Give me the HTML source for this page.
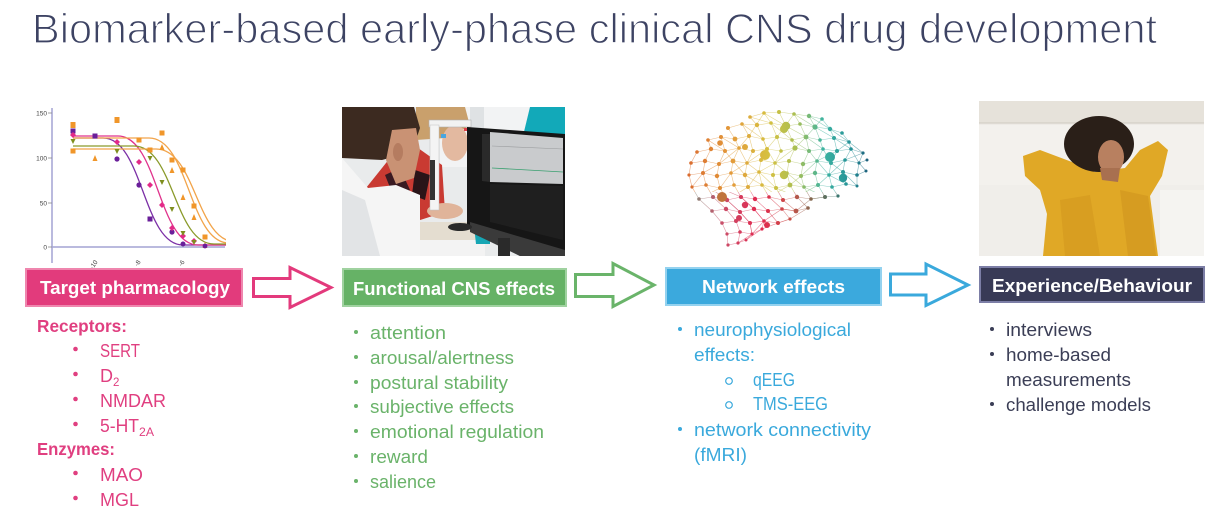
<!DOCTYPE html>
<html><head><meta charset="utf-8">
<style>
html,body{margin:0;padding:0;background:#fff;}
svg{display:block;}
text{font-family:"Liberation Sans",Arial,sans-serif;}
</style></head>
<body>
<svg width="1214" height="516" viewBox="0 0 1214 516" xmlns="http://www.w3.org/2000/svg">
<defs>
  <clipPath id="cChart"><rect x="30" y="100" width="196" height="170"/></clipPath>
  <clipPath id="cP2"><rect x="342" y="107" width="223" height="149"/></clipPath>
  <clipPath id="cP4"><rect x="979" y="101" width="225" height="155"/></clipPath>
  <clipPath id="cTop"><rect x="680" y="100" width="200" height="92"/></clipPath>
  <clipPath id="cBot"><rect x="680" y="192" width="200" height="70"/></clipPath>
  <linearGradient id="gH" gradientUnits="userSpaceOnUse" x1="685" y1="0" x2="870" y2="0">
    <stop offset="0" stop-color="#d9682e"/>
    <stop offset="0.25" stop-color="#e39a3a"/>
    <stop offset="0.45" stop-color="#d6c040"/>
    <stop offset="0.6" stop-color="#a9bf52"/>
    <stop offset="0.75" stop-color="#3cb3a2"/>
    <stop offset="0.9" stop-color="#238f96"/>
    <stop offset="1" stop-color="#1d5a78"/>
  </linearGradient>
  <linearGradient id="gB" gradientUnits="userSpaceOnUse" x1="690" y1="0" x2="845" y2="0">
    <stop offset="0" stop-color="#7c8c78"/>
    <stop offset="0.2" stop-color="#c8506a"/>
    <stop offset="0.45" stop-color="#e2264e"/>
    <stop offset="0.65" stop-color="#c85048"/>
    <stop offset="0.8" stop-color="#7a6a50"/>
    <stop offset="1" stop-color="#2a7a78"/>
  </linearGradient>
</defs>

<!-- Title -->
<text x="32" y="43" font-size="42" fill="#3d4363" stroke="#ffffff" stroke-width="1.2" textLength="1125" lengthAdjust="spacingAndGlyphs">Biomarker-based early-phase clinical CNS drug development</text>

<!-- ===== Chart ===== -->
<g>
  <line x1="52" y1="108" x2="52" y2="263" stroke="#a4a4d4" stroke-width="1.5"/>
  <line x1="52" y1="247" x2="225" y2="247" stroke="#a4a4d4" stroke-width="1.5"/>
  <g stroke="#888" stroke-width="0.8">
    <line x1="48" y1="113" x2="52" y2="113"/><line x1="48" y1="158" x2="52" y2="158"/>
    <line x1="48" y1="203" x2="52" y2="203"/><line x1="48" y1="247" x2="52" y2="247"/>
  </g>
  <g font-size="6.5" fill="#444" text-anchor="end">
    <text x="47" y="115.5">150</text><text x="47" y="160.5">100</text>
    <text x="47" y="205.5">50</text><text x="47" y="249.5">0</text>
  </g>
  <g font-size="6.5" fill="#444">
    <text transform="translate(98,262) rotate(-55)" text-anchor="end">-10</text>
    <text transform="translate(141,262) rotate(-55)" text-anchor="end">-8</text>
    <text transform="translate(185,262) rotate(-55)" text-anchor="end">-6</text>
  </g>
  <g clip-path="url(#cChart)" fill="none" stroke-width="1.3">
    <path d="M73,138 L103,138 C143,138 143,245 183,245 L226,245" stroke="#7b2fa6"/>
    <path d="M73,136 L118,136 C158,136 158,245 198,245 L226,245" stroke="#e0338c"/>
    <path d="M73,146 L134,146 C174,146 174,244 214,244 L226,244" stroke="#8a9a2a"/>
    <path d="M73,138 L149,138 C189,138 189,243 229,243" stroke="#f2a44a"/>
    <path d="M73,149 L156,149 C196,149 196,242 236,242" stroke="#f2a44a"/>
  </g>
  <g fill="#f0962a">
    <rect x="114.5" y="117" width="5" height="6"/><rect x="70.5" y="122" width="5" height="6"/>
    <rect x="70.5" y="148.5" width="5" height="5"/><path d="M92.5,161 L97.5,161 L95,155Z"/>
    <rect x="136.5" y="137.5" width="5" height="5"/><rect x="147.5" y="147.5" width="5" height="5"/>
    <rect x="159.5" y="130.5" width="5" height="5"/><path d="M159.5,150 L164.5,150 L162,144Z"/>
    <rect x="169.5" y="157.5" width="5" height="5"/><path d="M169.5,173 L174.5,173 L172,167Z"/>
    <rect x="180.5" y="167.5" width="5" height="5"/><path d="M180.5,200 L185.5,200 L183,194Z"/>
    <rect x="191.5" y="203.5" width="5" height="5"/><path d="M191.5,220 L196.5,220 L194,214Z"/>
    <rect x="202.5" y="234.5" width="5" height="5"/><path d="M202.5,248 L207.5,248 L205,242Z"/>
  </g>
  <g fill="#6a1f9a">
    <rect x="70.5" y="128.5" width="5" height="5"/><rect x="92.5" y="133.5" width="5" height="5"/>
    <circle cx="117" cy="159" r="2.6"/><circle cx="139" cy="185" r="2.6"/>
    <rect x="147.5" y="216.5" width="5" height="5"/><circle cx="172" cy="232" r="2.6"/>
    <circle cx="183" cy="244" r="2.5"/><circle cx="205" cy="246" r="2.4"/>
  </g>
  <g fill="#e32a88">
    <path d="M73,132 L76,135 L73,138 L70,135Z"/><path d="M117,139 L120,142 L117,145 L114,142Z"/>
    <path d="M139,159 L142,162 L139,165 L136,162Z"/><path d="M150,182 L153,185 L150,188 L147,185Z"/>
    <path d="M162,202 L165,205 L162,208 L159,205Z"/><path d="M172,225 L175,228 L172,231 L169,228Z"/>
    <path d="M183,233 L186,236 L183,239 L180,236Z"/><path d="M194,238 L197,241 L194,244 L191,241Z"/>
  </g>
  <g fill="#7e8e1e">
    <path d="M70.5,139 L75.5,139 L73,144Z"/><path d="M114.5,149 L119.5,149 L117,154Z"/>
    <path d="M147.5,156 L152.5,156 L150,161Z"/><path d="M159.5,180 L164.5,180 L162,185Z"/>
    <path d="M169.5,207 L174.5,207 L172,212Z"/><path d="M180.5,231 L185.5,231 L183,236Z"/>
    <path d="M191.5,240 L196.5,240 L194,245Z"/>
  </g>
</g>

<!-- ===== Photo 2 (lab) ===== -->
<g clip-path="url(#cP2)">
  <rect x="342" y="107" width="223" height="149" fill="#e9ebec"/>
  <rect x="440" y="107" width="125" height="60" fill="#f2f3f4"/>
  <polygon points="530,107 565,107 565,140 522,140" fill="#12a9b9"/>
  <rect x="470" y="107" width="14" height="120" fill="#dfe2e4"/>
  <polygon points="405,222 485,222 485,240 405,244" fill="#e4ddd0"/>
  <rect x="405" y="240" width="80" height="16" fill="#f3f3f3"/>
  <polygon points="474,226 490,224 490,244 476,244" fill="#16a6b4"/>
  <polygon points="416,107 465,107 470,126 445,138 416,140" fill="#c9a06c"/>
  <ellipse cx="455" cy="143" rx="13" ry="18" fill="#e3b9a0"/>
  <polygon points="366,188 390,158 418,148 442,165 445,212 414,222 385,210" fill="#c93a32"/>
  <polygon points="385,175 400,168 410,190 395,200" fill="#3a1a22"/>
  <polygon points="415,170 430,175 425,200 412,195" fill="#2a1418"/>
  <ellipse cx="445" cy="211" rx="18" ry="8" fill="#e0b49a"/>
  <rect x="429" y="120" width="42" height="7" fill="#f2f2f2" stroke="#b0b0b0" stroke-width="0.6"/>
  <rect x="430" y="125" width="9" height="85" fill="#f4f4f4" stroke="#c0c0c0" stroke-width="0.5"/>
  <rect x="430" y="160" width="5" height="40" fill="#333"/>
  <rect x="441" y="134" width="5" height="4" fill="#49a6e0"/>
  <rect x="464" y="128" width="4" height="3" fill="#e0404a"/>
  <polygon points="342,107 414,107 420,128 412,152 382,160 342,158" fill="#3c2a20"/>
  <polygon points="392,130 416,128 420,150 414,178 396,184 386,160" fill="#c99274"/>
  <ellipse cx="398" cy="152" rx="5" ry="9" fill="#b57c60"/>
  <polygon points="342,158 368,188 396,185 420,195 420,256 342,256" fill="#f5f5f5"/>
  <polygon points="342,190 365,200 380,256 342,256" fill="#e2e4e6"/>
  <polygon points="467,127 565,134 565,256 520,256 467,228" fill="#161616"/>
  <polygon points="490,132 563,138 563,184 490,182" fill="#c9cbcd"/>
  <polygon points="482,134 490,134 490,182 482,181" fill="#2a2a2a"/>
  <line x1="492" y1="168" x2="563" y2="172" stroke="#3aa070" stroke-width="0.8"/>
  <line x1="492" y1="146" x2="563" y2="149" stroke="#9a9c9e" stroke-width="0.6"/>
  <polygon points="490,184 563,186 563,240 490,222" fill="#1f1f1f"/>
  <polygon points="470,222 565,250 565,256 520,256 470,232" fill="#3a3a3a"/>
  <rect x="498" y="238" width="12" height="18" fill="#2a2a2a"/>
  <ellipse cx="460" cy="227" rx="12" ry="4" fill="#2a2a2a"/>
</g>

<!-- ===== Brain ===== -->
<g>
  <g fill="none" stroke-width="0.6" stroke-opacity="0.6">
    <g clip-path="url(#cTop)" stroke="url(#gH)">
      <polyline points="750,117 764,113 779,112 794,114 809,116 822,119"/>
      <polyline points="728,128 742,124 757,125 771,123 786,126 800,124 815,127 830,129 842,133"/>
      <polyline points="708,140 721,137 735,139 749,136 763,139 777,137 792,140 806,137 820,140 834,138 849,142"/>
      <polyline points="697,152 711,149 725,151 739,148 753,151 767,149 781,151 795,148 809,151 823,149 837,151 851,149 863,153"/>
      <polyline points="691,163 705,161 719,164 733,161 747,163 761,160 775,163 789,161 803,164 817,161 831,163 845,160 859,163 867,160"/>
      <polyline points="689,175 703,173 717,176 731,173 745,175 759,172 773,175 787,173 801,176 815,173 829,175 843,172 857,175 866,171"/>
      <polyline points="692,187 706,185 720,188 734,185 748,187 762,185 776,188 790,185 804,187 818,185 832,187 846,184 857,186"/>
      <polyline points="697,152 691,163 689,175 692,187 699,199"/>
      <polyline points="708,140 711,149 705,161 703,173 706,185 713,197 712,211"/>
      <polyline points="721,137 725,151 719,164 717,176 720,188 727,200 726,209"/>
      <polyline points="728,128 735,139 739,148 733,161 731,173 734,185 741,197 740,212"/>
      <polyline points="742,124 749,136 753,151 747,163 745,175 748,187 755,199 754,209"/>
      <polyline points="750,117 757,125 763,139 767,149 761,160 759,172 762,185 769,197 768,211"/>
      <polyline points="764,113 771,123 777,137 781,151 775,163 773,175 776,188 783,200 782,209"/>
      <polyline points="779,112 786,126 792,140 795,148 789,161 787,173 790,185 797,197 796,211"/>
      <polyline points="794,114 800,124 806,137 809,151 803,164 801,176 804,187 811,199 808,208"/>
      <polyline points="809,116 815,127 820,140 823,149 817,161 815,173 818,185 825,197"/>
      <polyline points="822,119 830,129 834,138 837,151 831,163 829,175 832,187 838,196"/>
      <polyline points="842,133 849,142 851,149 845,160 843,172 846,184"/>
      <polyline points="863,153 859,163 857,175 857,186"/>
      <polyline points="708,140 725,151 733,161 745,175 762,185 783,200"/>
      <polyline points="721,137 739,148 747,163 759,172 776,188 797,197"/>
      <polyline points="742,124 763,139 767,149 775,163 787,173 804,187 825,197"/>
      <polyline points="750,117 771,123 792,140 809,151 817,161 829,175 846,184"/>
      <polyline points="764,113 786,126 806,137 823,149 831,163 843,172 857,186"/>
      <polyline points="794,114 815,127 834,138 851,149 859,163 866,171"/>
      <polyline points="809,116 830,129 849,142 863,153"/>
      <polyline points="849,142 837,151 817,161 801,176 790,185 769,197"/>
      <polyline points="863,153 845,160 829,175 818,185 797,197"/>
      <polyline points="822,119 806,137 795,148 775,163 759,172 748,187 727,200"/>
      <polyline points="794,114 777,137 767,149 747,163 731,173 720,188 699,199"/>
      <polyline points="764,113 749,136 739,148 719,164 703,173 692,187"/>
    </g>
    <g clip-path="url(#cBot)" stroke="url(#gB)">
      <polyline points="699,199 713,197 727,200 741,197 755,199 769,197 783,200 797,197 811,199 825,197 838,196"/>
      <polyline points="712,211 726,209 740,212 754,209 768,211 782,209 796,211 808,208"/>
      <polyline points="722,223 736,221 750,223 764,221 778,223 790,219"/>
      <polyline points="727,234 740,232 752,234 762,229"/>
      <polyline points="728,245 738,243 746,240"/>
      <polyline points="692,187 699,199 712,211 722,223 727,234 728,245"/>
      <polyline points="706,185 713,197 726,209 736,221 740,232 738,243"/>
      <polyline points="720,188 727,200 740,212 750,223 752,234 746,240"/>
      <polyline points="734,185 741,197 754,209 764,221 762,229"/>
      <polyline points="748,187 755,199 768,211 778,223"/>
      <polyline points="762,185 769,197 782,209 790,219"/>
      <polyline points="776,188 783,200 796,211"/>
      <polyline points="790,185 797,197 808,208"/>
      <polyline points="804,187 811,199"/><polyline points="818,185 825,197"/><polyline points="832,187 838,196"/>
      <polyline points="689,175 706,185 727,200 740,212 750,223 752,234"/>
      <polyline points="703,173 720,188 741,197 754,209 764,221"/>
      <polyline points="808,208 790,219 778,223 762,229 746,240"/>
      <polyline points="825,197 811,199 796,211 782,209 764,221 752,234 738,243"/>
    </g>
  </g>
  <g fill="url(#gH)">
    <circle cx="750" cy="117" r="1.8"/><circle cx="764" cy="113" r="1.8"/><circle cx="779" cy="112" r="2"/><circle cx="794" cy="114" r="1.8"/><circle cx="809" cy="116" r="2.2"/><circle cx="822" cy="119" r="1.8"/>
    <circle cx="728" cy="128" r="2"/><circle cx="742" cy="124" r="1.8"/><circle cx="757" cy="125" r="2.2"/><circle cx="771" cy="123" r="1.8"/><circle cx="786" cy="126" r="4.2"/><circle cx="800" cy="124" r="1.8"/><circle cx="815" cy="127" r="2.6"/><circle cx="830" cy="129" r="2.2"/><circle cx="842" cy="133" r="1.8"/>
    <circle cx="708" cy="140" r="1.8"/><circle cx="721" cy="137" r="2"/><circle cx="735" cy="139" r="2.4"/><circle cx="749" cy="136" r="2"/><circle cx="763" cy="139" r="1.8"/><circle cx="777" cy="137" r="2"/><circle cx="792" cy="140" r="1.8"/><circle cx="806" cy="137" r="2.4"/><circle cx="820" cy="140" r="1.8"/><circle cx="834" cy="138" r="2"/><circle cx="849" cy="142" r="1.8"/>
    <circle cx="697" cy="152" r="1.8"/><circle cx="711" cy="149" r="2.2"/><circle cx="725" cy="151" r="2"/><circle cx="739" cy="148" r="1.8"/><circle cx="753" cy="151" r="2"/><circle cx="767" cy="149" r="2"/><circle cx="781" cy="151" r="1.8"/><circle cx="795" cy="148" r="2.6"/><circle cx="809" cy="151" r="2"/><circle cx="823" cy="149" r="1.8"/><circle cx="837" cy="151" r="2"/><circle cx="851" cy="149" r="1.8"/><circle cx="863" cy="153" r="1.6"/>
    <circle cx="691" cy="163" r="1.8"/><circle cx="705" cy="161" r="2.2"/><circle cx="719" cy="164" r="2"/><circle cx="733" cy="161" r="2.4"/><circle cx="747" cy="163" r="1.8"/><circle cx="761" cy="160" r="2"/><circle cx="775" cy="163" r="1.8"/><circle cx="789" cy="161" r="2"/><circle cx="803" cy="164" r="2.2"/><circle cx="817" cy="161" r="1.8"/><circle cx="831" cy="163" r="2"/><circle cx="845" cy="160" r="1.8"/><circle cx="859" cy="163" r="1.6"/><circle cx="867" cy="160" r="1.5"/>
    <circle cx="689" cy="175" r="1.6"/><circle cx="703" cy="173" r="2"/><circle cx="717" cy="176" r="2.2"/><circle cx="731" cy="173" r="1.8"/><circle cx="745" cy="175" r="2.2"/><circle cx="759" cy="172" r="1.8"/><circle cx="773" cy="175" r="2"/><circle cx="787" cy="173" r="1.8"/><circle cx="801" cy="176" r="2"/><circle cx="815" cy="173" r="2.2"/><circle cx="829" cy="175" r="1.8"/><circle cx="843" cy="172" r="2"/><circle cx="857" cy="175" r="1.8"/><circle cx="866" cy="171" r="1.5"/>
    <circle cx="692" cy="187" r="1.6"/><circle cx="706" cy="185" r="1.8"/><circle cx="720" cy="188" r="2"/><circle cx="734" cy="185" r="1.8"/><circle cx="748" cy="187" r="2"/><circle cx="762" cy="185" r="1.8"/><circle cx="776" cy="188" r="2"/><circle cx="790" cy="185" r="2.4"/><circle cx="804" cy="187" r="1.8"/><circle cx="818" cy="185" r="2"/><circle cx="832" cy="187" r="1.8"/><circle cx="846" cy="184" r="1.8"/><circle cx="857" cy="186" r="1.5"/>
    <circle cx="765" cy="155" r="5"/><circle cx="784" cy="129" r="4"/><circle cx="830" cy="157" r="5"/><circle cx="843" cy="178" r="4.2"/><circle cx="784" cy="175" r="4.2"/><circle cx="745" cy="147" r="3"/><circle cx="720" cy="143" r="2.8"/>
  </g>
  <g fill="url(#gB)">
    <circle cx="699" cy="199" r="1.8"/><circle cx="713" cy="197" r="2"/><circle cx="727" cy="200" r="2.2"/><circle cx="741" cy="197" r="2"/><circle cx="755" cy="199" r="2.2"/><circle cx="769" cy="197" r="1.8"/><circle cx="783" cy="200" r="2"/><circle cx="797" cy="197" r="2.2"/><circle cx="811" cy="199" r="1.8"/><circle cx="825" cy="197" r="2"/><circle cx="838" cy="196" r="1.6"/>
    <circle cx="712" cy="211" r="1.8"/><circle cx="726" cy="209" r="2.2"/><circle cx="740" cy="212" r="2"/><circle cx="754" cy="209" r="2.2"/><circle cx="768" cy="211" r="2"/><circle cx="782" cy="209" r="1.8"/><circle cx="796" cy="211" r="2.4"/><circle cx="808" cy="208" r="1.8"/>
    <circle cx="722" cy="223" r="1.8"/><circle cx="736" cy="221" r="2"/><circle cx="750" cy="223" r="2"/><circle cx="764" cy="221" r="1.8"/><circle cx="778" cy="223" r="2"/><circle cx="790" cy="219" r="1.6"/>
    <circle cx="727" cy="234" r="1.6"/><circle cx="740" cy="232" r="1.8"/><circle cx="752" cy="234" r="1.6"/><circle cx="762" cy="229" r="1.6"/>
    <circle cx="728" cy="245" r="1.6"/><circle cx="738" cy="243" r="1.6"/><circle cx="746" cy="240" r="1.5"/>
    <circle cx="739" cy="218" r="3"/><circle cx="767" cy="225" r="3"/><circle cx="745" cy="205" r="3.2"/>
  </g>
  <circle cx="722" cy="197" r="5" fill="#c0743c"/>
</g>

<!-- ===== Photo 4 (woman) ===== -->
<g clip-path="url(#cP4)">
  <rect x="979" y="101" width="225" height="155" fill="#eeebe6"/>
  <rect x="979" y="101" width="225" height="22" fill="#e6e2da"/>
  <line x1="979" y1="123" x2="1204" y2="123" stroke="#cfcac0" stroke-width="1"/>
  <rect x="979" y="125" width="225" height="60" fill="#f3f1ed"/>
  <rect x="979" y="185" width="225" height="71" fill="#f0eeea"/>
  <rect x="1160" y="190" width="44" height="66" fill="#f5f4f1"/>
  <polygon points="1023,156 1040,150 1072,162 1095,172 1125,168 1140,150 1158,141 1168,150 1162,176 1150,196 1158,256 1043,256 1047,214 1040,190 1025,176" fill="#e0a826"/>
  <polygon points="1060,200 1090,195 1100,256 1065,256" fill="#d49a20" opacity="0.7"/>
  <polygon points="1120,190 1148,196 1156,256 1128,256" fill="#cf951e" opacity="0.6"/>
  <ellipse cx="1099" cy="144" rx="35" ry="28" fill="#2a1f18"/>
  <ellipse cx="1111" cy="157" rx="13" ry="17" fill="#b88060"/>
  <polygon points="1100,168 1120,168 1118,182 1102,180" fill="#a87050"/>
</g>

<!-- ===== Boxes ===== -->
<rect x="26" y="269" width="216" height="37" fill="#e23b7c" stroke="#ef86ae" stroke-width="2"/>
<text x="40" y="294" font-size="18" font-weight="bold" fill="#fff" textLength="190" lengthAdjust="spacingAndGlyphs">Target pharmacology</text>

<rect x="343" y="269" width="223" height="37" fill="#66b266" stroke="#a0d2a0" stroke-width="2"/>
<text x="353" y="295" font-size="18" font-weight="bold" fill="#fff" textLength="202" lengthAdjust="spacingAndGlyphs">Functional CNS effects</text>

<rect x="666" y="268" width="215" height="37" fill="#3ba9dd" stroke="#94d2ef" stroke-width="2"/>
<text x="702" y="293" font-size="18" font-weight="bold" fill="#fff" textLength="143" lengthAdjust="spacingAndGlyphs">Network effects</text>

<rect x="980" y="267" width="224" height="35" fill="#383a56" stroke="#7c7ea6" stroke-width="2"/>
<text x="992" y="292" font-size="18" font-weight="bold" fill="#fff" textLength="200" lengthAdjust="spacingAndGlyphs">Experience/Behaviour</text>

<!-- ===== Arrows ===== -->
<polygon points="253.5,278.5 290,278.5 290,267.5 331,287.5 290,307.5 290,296.5 253.5,296.5" fill="#fff" stroke="#e33a7c" stroke-width="3"/>
<polygon points="575.5,274.5 613,274.5 613,263.5 654,285 613,306.5 613,296.5 575.5,296.5" fill="#fff" stroke="#6ab46a" stroke-width="3"/>
<polygon points="890.5,274 926,274 926,264 968,285 926,305.5 926,295 890.5,295" fill="#fff" stroke="#3aa9dc" stroke-width="3"/>

<!-- ===== Pink list ===== -->
<g fill="#e03f80">
  <text x="37" y="332" font-size="17.5" font-weight="bold" textLength="90" lengthAdjust="spacingAndGlyphs">Receptors:</text>
  <circle cx="75.5" cy="349" r="2.3"/>
  <text x="100" y="357" font-size="18" textLength="40" lengthAdjust="spacingAndGlyphs">SERT</text>
  <circle cx="75.5" cy="374" r="2.3"/>
  <text x="100" y="382" font-size="18" textLength="13" lengthAdjust="spacingAndGlyphs">D</text>
  <text x="113" y="386" font-size="11.5">2</text>
  <circle cx="75.5" cy="399" r="2.3"/>
  <text x="100" y="407" font-size="18" textLength="66" lengthAdjust="spacingAndGlyphs">NMDAR</text>
  <circle cx="75.5" cy="424" r="2.3"/>
  <text x="100" y="432" font-size="18" textLength="39" lengthAdjust="spacingAndGlyphs">5-HT</text>
  <text x="139" y="436" font-size="11.5" textLength="15" lengthAdjust="spacingAndGlyphs">2A</text>
  <text x="37" y="455" font-size="17.5" font-weight="bold" textLength="78" lengthAdjust="spacingAndGlyphs">Enzymes:</text>
  <circle cx="75.5" cy="473" r="2.3"/>
  <text x="100" y="481" font-size="18" textLength="43" lengthAdjust="spacingAndGlyphs">MAO</text>
  <circle cx="75.5" cy="498" r="2.3"/>
  <text x="100" y="506" font-size="18" textLength="39" lengthAdjust="spacingAndGlyphs">MGL</text>
</g>

<!-- ===== Green list ===== -->
<g fill="#6ab36a" font-size="18">
  <circle cx="356" cy="332" r="2"/><text x="370" y="339" textLength="76" lengthAdjust="spacingAndGlyphs">attention</text>
  <circle cx="356" cy="357" r="2"/><text x="370" y="364" textLength="144" lengthAdjust="spacingAndGlyphs">arousal/alertness</text>
  <circle cx="356" cy="382" r="2"/><text x="370" y="389" textLength="138" lengthAdjust="spacingAndGlyphs">postural stability</text>
  <circle cx="356" cy="406" r="2"/><text x="370" y="413" textLength="144" lengthAdjust="spacingAndGlyphs">subjective effects</text>
  <circle cx="356" cy="431" r="2"/><text x="370" y="438" textLength="174" lengthAdjust="spacingAndGlyphs">emotional regulation</text>
  <circle cx="356" cy="456" r="2"/><text x="370" y="463" textLength="58" lengthAdjust="spacingAndGlyphs">reward</text>
  <circle cx="356" cy="481" r="2"/><text x="370" y="488" textLength="66" lengthAdjust="spacingAndGlyphs">salience</text>
</g>

<!-- ===== Blue list ===== -->
<g fill="#3aa9dc" font-size="18">
  <circle cx="680" cy="329" r="2"/><text x="694" y="336" textLength="157" lengthAdjust="spacingAndGlyphs">neurophysiological</text>
  <text x="694" y="361" textLength="61" lengthAdjust="spacingAndGlyphs">effects:</text>
  <circle cx="729" cy="381" r="3.3" fill="none" stroke="#3aa9dc" stroke-width="1.2"/>
  <text x="753" y="386" textLength="42" lengthAdjust="spacingAndGlyphs">qEEG</text>
  <circle cx="729" cy="405" r="3.3" fill="none" stroke="#3aa9dc" stroke-width="1.2"/>
  <text x="753" y="410" textLength="75" lengthAdjust="spacingAndGlyphs">TMS-EEG</text>
  <circle cx="680" cy="429" r="2"/><text x="694" y="436" textLength="177" lengthAdjust="spacingAndGlyphs">network connectivity</text>
  <text x="694" y="461" textLength="53" lengthAdjust="spacingAndGlyphs">(fMRI)</text>
</g>

<!-- ===== Dark list ===== -->
<g fill="#3b3e56" font-size="18">
  <circle cx="992" cy="329" r="2"/><text x="1006" y="336" textLength="86" lengthAdjust="spacingAndGlyphs">interviews</text>
  <circle cx="992" cy="354" r="2"/><text x="1006" y="361" textLength="105" lengthAdjust="spacingAndGlyphs">home-based</text>
  <text x="1006" y="386" textLength="125" lengthAdjust="spacingAndGlyphs">measurements</text>
  <circle cx="992" cy="404" r="2"/><text x="1006" y="411" textLength="145" lengthAdjust="spacingAndGlyphs">challenge models</text>
</g>
</svg>
</body></html>
